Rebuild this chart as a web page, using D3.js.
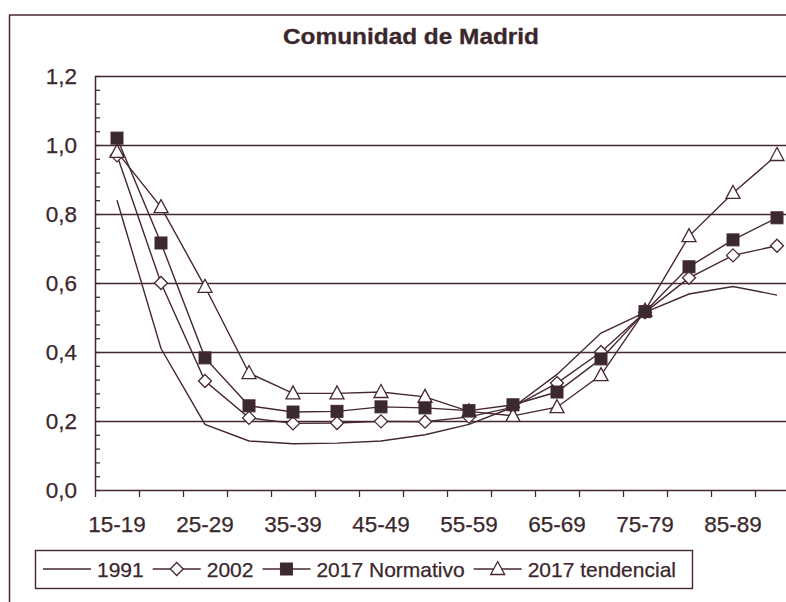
<!DOCTYPE html>
<html><head><meta charset="utf-8">
<script src="https://cdn.jsdelivr.net/npm/d3@7"></script>
<style>body{margin:0;background:#fff;overflow:hidden}</style>
</head><body><svg id="c" width="786" height="602"></svg>
<script>
const categories = ["15-19","20-24","25-29","30-34","35-39","40-44","45-49","50-54","55-59","60-64","65-69","70-74","75-79","80-84","85-89","90-94"];
const xTickLabels = ["15-19","25-29","35-39","45-49","55-59","65-69","75-79","85-89"];
const yTicks = [0,0.2,0.4,0.6,0.8,1.0,1.2];
const yTickLabels = ["0,0","0,2","0,4","0,6","0,8","1,0","1,2"];
const seriesNames = ["1991","2002","2017 Normativo","2017 tendencial"];
const s1991 = [0.84,0.41,0.19,0.142,0.134,0.136,0.142,0.16,0.19,0.24,0.335,0.455,0.515,0.568,0.59,0.565];
const s2002 = [0.97,0.60,0.316,0.209,0.193,0.194,0.199,0.198,0.212,0.24,0.31,0.40,0.515,0.615,0.68,0.708];
const sNormativo = [1.02,0.716,0.383,0.244,0.226,0.228,0.241,0.238,0.23,0.247,0.284,0.38,0.517,0.647,0.725,0.789];
const sTendencial = [0.98,0.82,0.589,0.339,0.28,0.28,0.284,0.27,0.228,0.215,0.24,0.333,0.52,0.736,0.861,0.971];
const title = "Comunidad de Madrid";

const ink = "#45282f", txt = "#3a272c";
const font = "'Liberation Sans', Arial, sans-serif";
const svg = d3.select("#c");
svg.append("rect").attr("width",786).attr("height",602).attr("fill","#fff");

// outer frame
svg.append("line").attr("x1",9).attr("x2",800).attr("y1",15).attr("y2",15).attr("stroke",ink).attr("stroke-width",1.5);
svg.append("line").attr("x1",9.5).attr("x2",9.5).attr("y1",15).attr("y2",602).attr("stroke",ink).attr("stroke-width",1.5);

svg.append("text").attr("x",283).attr("y",44).attr("textLength",256).attr("lengthAdjust","spacingAndGlyphs")
  .attr("font-family",font).attr("font-weight","bold").attr("font-size",21.5).attr("fill",txt)
  .attr("stroke",txt).attr("stroke-width",0.3).text(title);

const x0 = 95, bw = 44;
const x = d3.scaleBand().domain(categories).range([x0, x0 + bw*categories.length]).padding(0);
const y = d3.scaleLinear().domain([0,1.2]).range([490,76]);

// gridlines
svg.append("g").selectAll("line").data(yTicks.slice(1)).join("line")
  .attr("x1",x0).attr("x2",x0 + bw*categories.length)
  .attr("y1",d=>Math.round(y(d))+0.5).attr("y2",d=>Math.round(y(d))+0.5)
  .attr("stroke",ink).attr("stroke-width",1.3);

// y axis with inner minor ticks
const yAxis = d3.axisRight(y).tickValues(d3.range(0,1.2001,0.04)).tickSize(5).tickFormat("");
const gy = svg.append("g").attr("transform",`translate(${x0},0)`).call(yAxis);
gy.select(".domain").attr("stroke",ink).attr("stroke-width",1.5).attr("d",`M0.5,${y(1.2)}V${y(0)}`);
gy.selectAll(".tick line").attr("stroke",ink).attr("stroke-width",1.3);
// y labels
svg.append("g").selectAll("text").data(yTicks).join("text")
  .attr("x",77).attr("y",d=>y(d)+8).attr("text-anchor","end")
  .attr("font-family",font).attr("font-size",22.5).attr("fill",txt).attr("stroke",txt).attr("stroke-width",0.25)
  .text((d,i)=>yTickLabels[i]);

// x axis: ticks at band boundaries
const xb = d3.scaleLinear().domain([0,categories.length]).range([x0, x0+bw*categories.length]);
const gx = svg.append("g").attr("transform",`translate(0,${y(0)})`)
  .call(d3.axisBottom(xb).tickValues(d3.range(0,categories.length+1)).tickSize(7).tickFormat(""));
gx.select(".domain").attr("stroke",ink).attr("stroke-width",1.5).attr("d",`M${x0},0.5H${x0+bw*categories.length}`);
gx.selectAll(".tick line").attr("stroke",ink).attr("stroke-width",1.3);
svg.append("g").selectAll("text").data(xTickLabels).join("text")
  .attr("x",d=>x(d)+bw/2).attr("y",532).attr("text-anchor","middle")
  .attr("font-family",font).attr("font-size",22.5).attr("fill",txt).attr("stroke",txt).attr("stroke-width",0.25).text(d=>d);

// series
const line = d3.line().x((d,i)=>x(categories[i])+bw/2).y(d=>y(d));
const markers = {"1991":null,"2002":"diamond","2017 Normativo":"square","2017 tendencial":"triangle"};
const seriesData = {"1991":s1991,"2002":s2002,"2017 Normativo":sNormativo,"2017 tendencial":sTendencial};
function drawMarker(g, type, cx, cy){
  if(type==="diamond"){
    g.append("path").attr("d",`M${cx},${cy-6.5}L${cx+6.5},${cy}L${cx},${cy+6.5}L${cx-6.5},${cy}Z`)
     .attr("fill","#fff").attr("stroke",ink).attr("stroke-width",1.3);
  } else if(type==="square"){
    g.append("rect").attr("x",cx-6).attr("y",cy-6).attr("width",12).attr("height",12)
     .attr("fill","#3a2a30").attr("stroke",ink).attr("stroke-width",1);
  } else if(type==="triangle"){
    g.append("path").attr("d",`M${cx},${cy-7.5}L${cx+7},${cy+5.5}L${cx-7},${cy+5.5}Z`)
     .attr("fill","#fff").attr("stroke",ink).attr("stroke-width",1.3);
  }
}
// draw order: squares on top
["1991","2002","2017 tendencial","2017 Normativo"].forEach(name=>{
  const s = seriesData[name];
  const g = svg.append("g");
  g.append("path").attr("d",line(s)).attr("fill","none").attr("stroke",ink).attr("stroke-width",1.4);
  if(markers[name]) s.forEach((v,i)=>drawMarker(g,markers[name],x(categories[i])+bw/2,y(v)));
});

// legend
const lg = svg.append("g");
lg.append("rect").attr("x",35.5).attr("y",550.5).attr("width",657).attr("height",38)
  .attr("fill","#fff").attr("stroke",ink).attr("stroke-width",1.4);
let lx = 43;
const ly = 569;
seriesNames.forEach(name=>{
  lg.append("line").attr("x1",lx).attr("x2",lx+48).attr("y1",ly).attr("y2",ly).attr("stroke",ink).attr("stroke-width",1.4);
  if(markers[name]) drawMarker(lg,markers[name],lx+24,ly);
  const t = lg.append("text").attr("x",lx+54).attr("y",ly+7.5).attr("font-family",font).attr("font-size",21)
    .attr("fill",txt).attr("stroke",txt).attr("stroke-width",0.25).text(name);
  lx = lx + 54 + t.node().getComputedTextLength() + 9;
});
</script>
</body></html>
